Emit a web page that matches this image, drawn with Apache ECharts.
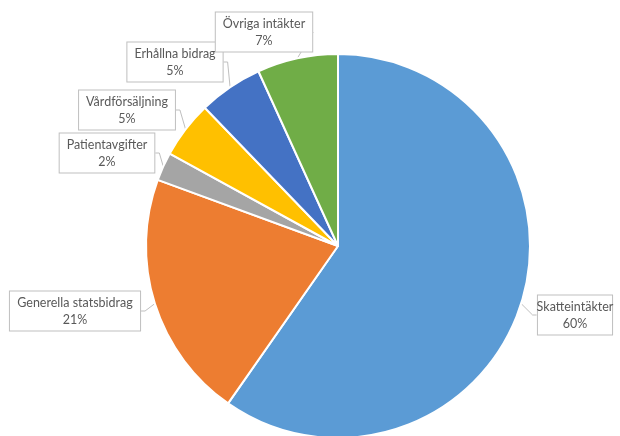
<!DOCTYPE html>
<html>
<head>
<meta charset="utf-8">
<script src="https://cdn.jsdelivr.net/npm/echarts@6/dist/echarts.min.js"></script>
<style>
  html, body { margin: 0; padding: 0; background: #fff; }
  #chart { width: 620px; height: 436px; }
</style>
</head>
<body>
<div id="chart"></div>
<script>
// Intäktsfördelning (andel i procent)
const categories = ['Skatteintäkter', 'Generella statsbidrag', 'Patientavgifter', 'Vårdförsäljning', 'Erhållna bidrag', 'Övriga intäkter'];
const values = [59.7, 20.9, 2.4, 4.8, 5.4, 6.8];
const colors = ['#5B9BD5', '#ED7D31', '#A5A5A5', '#FFC000', '#4472C4', '#70AD47'];

// Etikettlådornas mittpunkter, som i originalet
const labelPos = [[575, 315], [75, 311], [107, 153], [127, 110], [175, 62], [264, 32]];

const chart = echarts.init(document.getElementById('chart'), null, { renderer: 'canvas' });

chart.setOption({
    animation: false,
    backgroundColor: '#fff',
    series: [{
        type: 'pie',
        center: [338, 246],
        radius: 192,
        startAngle: 90,
        clockwise: true,
        percentPrecision: 0,
        data: categories.map((name, i) => ({
            name: name,
            value: values[i],
            itemStyle: { color: colors[i] }
        })),
        itemStyle: {
            borderColor: '#fff',
            borderWidth: 2
        },
        label: {
            show: true,
            formatter: '{b}\n{d}%',
            fontFamily: 'Lato',
            fontSize: 12.5,
            lineHeight: 17,
            color: '#595959',
            align: 'center',
            overflow: 'none',
            backgroundColor: '#fff',
            borderColor: '#BFBFBF',
            borderWidth: 1,
            padding: [3, 7, 2, 7]
        },
        labelLine: {
            show: true,
            length: 6,
            length2: 4,
            lineStyle: { color: '#BFBFBF', width: 1 }
        },
        labelLayout: function (params) {
            const p = labelPos[params.dataIndex];
            return {
                x: p[0],
                y: p[1],
                align: 'center',
                verticalAlign: 'middle'
            };
        }
    }]
});
</script>
</body>
</html>
